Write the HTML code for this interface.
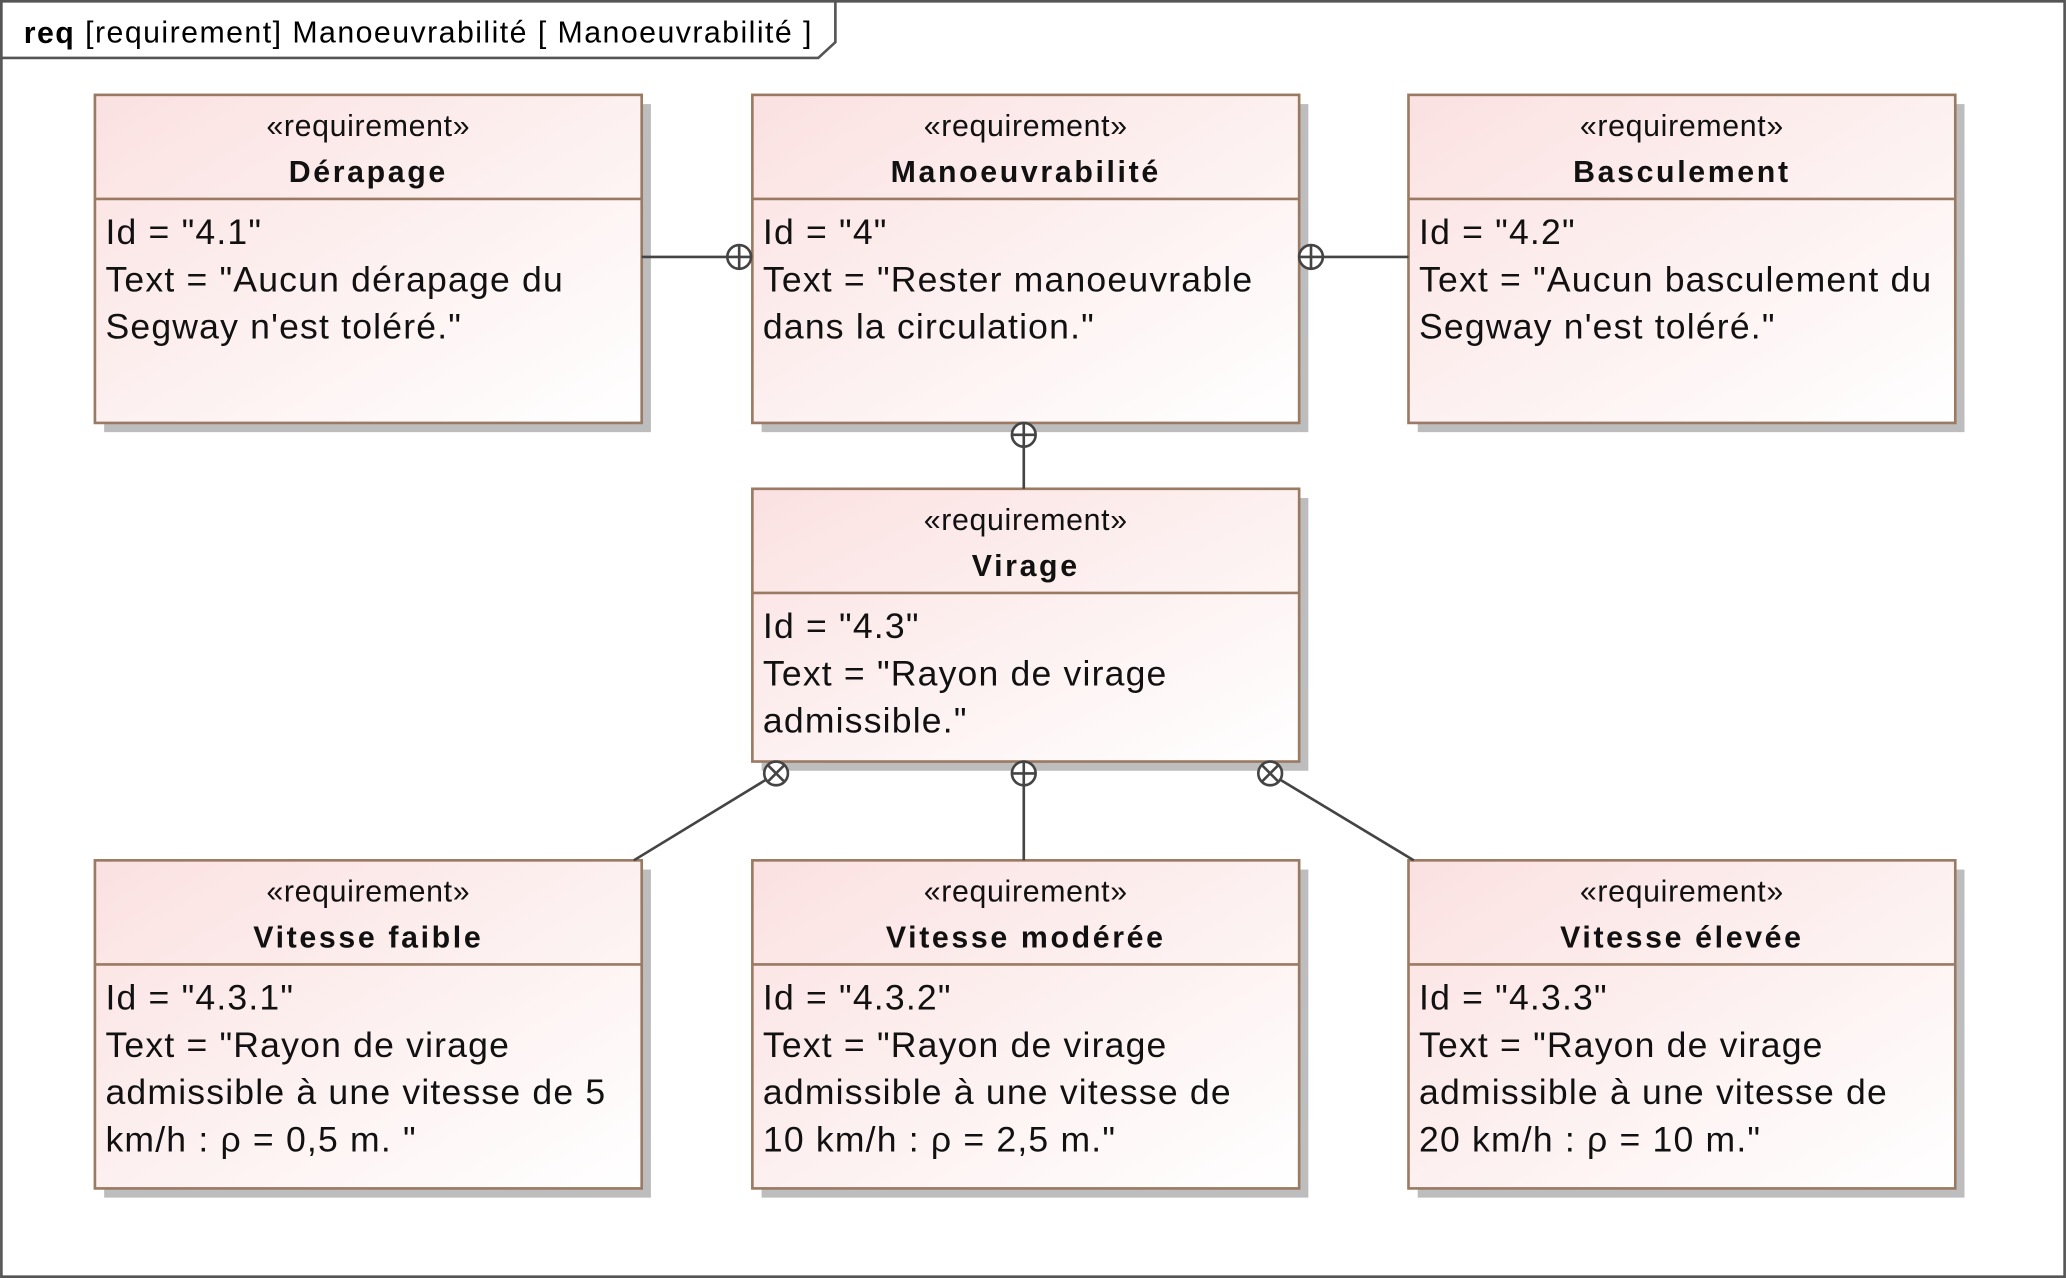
<!DOCTYPE html>
<html><head><meta charset="utf-8"><style>
html,body{margin:0;padding:0;background:#fff;}
svg{display:block;font-family:"Liberation Sans",sans-serif;}
</style></head><body>
<svg width="2066" height="1278" viewBox="0 0 1568 970">
<defs>
<linearGradient id="g" x1="0" y1="0" x2="1" y2="1">
<stop offset="0" stop-color="#fbe1e1"/><stop offset="1" stop-color="#ffffff"/>
</linearGradient>
</defs>
<rect x="1" y="1" width="1566" height="968" fill="#fff" stroke="#555" stroke-width="2"/>
<polygon points="1,1 634,1 634,32 621,44 1,44" fill="#fff" stroke="#555" stroke-width="2"/>
<text x="18" y="25" font-size="23" letter-spacing="1.1" dominant-baseline="central"><tspan font-weight="bold">req</tspan> [requirement] Manoeuvrabilité [ Manoeuvrabilité ]</text>

<g id="boxes"></g>

<g stroke="#444" stroke-width="2" fill="none">
<line x1="487" y1="195" x2="552" y2="195"/>
<circle cx="561" cy="195" r="9" fill="#fff"/><line x1="552" y1="195" x2="570" y2="195"/><line x1="561" y1="186" x2="561" y2="204"/>
<line x1="1004" y1="195" x2="1069" y2="195"/>
<circle cx="995" cy="195" r="9" fill="#fff"/><line x1="986" y1="195" x2="1004" y2="195"/><line x1="995" y1="186" x2="995" y2="204"/>
<line x1="777" y1="339" x2="777" y2="371"/>
<circle cx="777" cy="330" r="9" fill="#fff"/><line x1="768" y1="330" x2="786" y2="330"/><line x1="777" y1="321" x2="777" y2="339"/>
<line x1="777" y1="596" x2="777" y2="653"/>
<circle cx="777" cy="587" r="9" fill="#fff"/><line x1="768" y1="587" x2="786" y2="587"/><line x1="777" y1="578" x2="777" y2="596"/>
<line x1="581" y1="592" x2="481" y2="653"/>
<circle cx="589" cy="587" r="9" fill="#fff"/><line x1="583" y1="581" x2="595" y2="593"/><line x1="595" y1="581" x2="583" y2="593"/>
<line x1="972" y1="592" x2="1073" y2="653"/>
<circle cx="964" cy="587" r="9" fill="#fff"/><line x1="958" y1="581" x2="970" y2="593"/><line x1="970" y1="581" x2="958" y2="593"/>
</g>
</svg>
<script>
const boxes=[
 {x:72,y:72,name:"Dérapage",lines:['Id = "4.1"','Text = "Aucun dérapage du','Segway n\'est toléré."'],dn:'derapage'},
 {x:571,y:72,name:"Manoeuvrabilité",lines:['Id = "4"','Text = "Rester manoeuvrable','dans la circulation."'],dn:'manoeuvrabilite'},
 {x:1069,y:72,name:"Basculement",lines:['Id = "4.2"','Text = "Aucun basculement du','Segway n\'est toléré."'],dn:'basculement'},
 {x:571,y:371,name:"Virage",lines:['Id = "4.3"','Text = "Rayon de virage','admissible."'],dn:'virage',h:207},
 {x:72,y:653,name:"Vitesse faible",lines:['Id = "4.3.1"','Text = "Rayon de virage','admissible à une vitesse de 5','km/h : ρ = 0,5 m. "'],dn:'vitesse-faible'},
 {x:571,y:653,name:"Vitesse modérée",lines:['Id = "4.3.2"','Text = "Rayon de virage','admissible à une vitesse de','10 km/h : ρ = 2,5 m."'],dn:'vitesse-moderee'},
 {x:1069,y:653,name:"Vitesse élevée",lines:['Id = "4.3.3"','Text = "Rayon de virage','admissible à une vitesse de','20 km/h : ρ = 10 m."'],dn:'vitesse-elevee'}
];
const NS="http://www.w3.org/2000/svg";
const root=document.getElementById('boxes');
function mk(tag,attrs,parent){const e=document.createElementNS(NS,tag);for(const k in attrs)e.setAttribute(k,attrs[k]);parent.appendChild(e);return e;}
boxes.forEach(b=>{
 const w=415,h=b.h||249;
 const g=mk('g',{},root);
 
 
 mk('rect',{x:b.x+7,y:b.y+7,width:w,height:h,fill:'#bdbdbd'},g);
 mk('rect',{x:b.x,y:b.y,width:w,height:h,fill:'url(#g)',stroke:'#9a7a62','stroke-width':2},g);
 mk('line',{x1:b.x,y1:b.y+79,x2:b.x+w,y2:b.y+79,stroke:'#9a7a62','stroke-width':2},g);
 const st=mk('text',{x:b.x+w/2,y:b.y+24,'font-size':23,'letter-spacing':'0.5','text-anchor':'middle','dominant-baseline':'central',fill:'#111'},g);
 st.textContent='«requirement»';
 
 
 const nm=mk('text',{x:b.x+w/2,y:b.y+59,'font-size':23,'font-weight':'bold','letter-spacing':'2','text-anchor':'middle','dominant-baseline':'central',fill:'#111'},g);
 nm.textContent=b.name;
 
 
 b.lines.forEach((l,i)=>{
  const t=mk('text',{x:b.x+8,y:b.y+104+i*36,'font-size':27,'letter-spacing':'0.9','dominant-baseline':'central',fill:'#111'},g);
  t.textContent=l;
  
  
 });
});
</script>
</body></html>
